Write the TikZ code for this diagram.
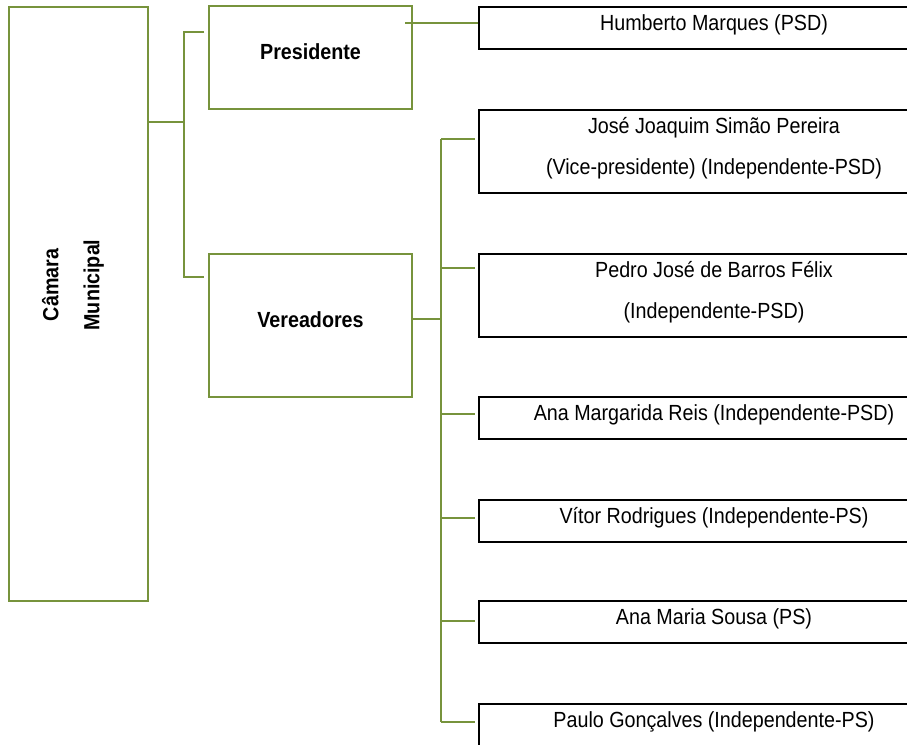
\documentclass[tikz,border=0pt]{standalone}
\usepackage{fontspec}
\setmainfont{Liberation Sans}[FakeStretch=0.9]
\usetikzlibrary{calc}
\definecolor{leafgreen}{HTML}{77933C}
\newcommand{\orgfont}{\fontsize{21.9}{41}\selectfont}
\tikzset{
  link/.style={draw=leafgreen, line width=1.8pt},
  greenbox/.style={draw=leafgreen, line width=1.8pt, minimum width=203pt, minimum height=103pt, text depth=11pt, font=\orgfont\bfseries},
  memberbox/.style={draw=black, line width=1.8pt, minimum width=470pt, minimum height=42pt, text depth=11pt, align=center, font=\orgfont}
}

\begin{document}
\begin{tikzpicture}[x=1pt,y=-1pt]
\useasboundingbox (0,0) rectangle (907,744);
\clip (0,0) rectangle (907,744);
% left column
\node[greenbox, minimum width=139pt, minimum height=594pt] (camara) at (78.5,304) {};
\node[rotate=90, align=center, font=\orgfont\bfseries] (camaratxt) at (73,285) {Câmara\\Municipal};
\node[greenbox] (pres) at (310.5,57.5) {Presidente};
\node[greenbox, minimum height=143pt] (ver) at (310.5,325.5) {Vereadores};
% members
\node[memberbox] (m1) at (714,28) {Humberto Marques (PSD)};
\node[memberbox, minimum height=83pt] (m2) at (714,151.5) {José Joaquim Simão Pereira\\(Vice-presidente) (Independente-PSD)};
\node[memberbox, minimum height=83pt] (m3) at (714,295.5) {Pedro José de Barros Félix\\(Independente-PSD)};
\node[memberbox] (m4) at (714,418) {Ana Margarida Reis (Independente-PSD)};
\node[memberbox] (m5) at (714,521) {Vítor Rodrigues (Independente-PS)};
\node[memberbox] (m6) at (714,622) {Ana Maria Sousa (PS)};
\node[memberbox] (m7) at (714,725) {Paulo Gonçalves (Independente-PS)};
% connectors
\coordinate (cmid) at (184,122);
\coordinate (ctop) at (184,32);
\coordinate (cbot) at (184,277);
\draw[link] (camara.east |- cmid) -- (cmid);
\draw[link] ($(pres.west |- ctop)+(-4,0)$) -- (ctop) -- (cbot) -- ($(ver.west |- cbot)+(-4,0)$);
\coordinate (ptap) at (405,23);
\draw[link] (ptap) -- (ptap -| m1.west);
\coordinate (vtop) at (441,139);
\coordinate (vbot) at (441,722);
\coordinate (vtap) at (ver.east |- 0,319);
\draw[link] (vtap) -- (vtap -| vtop);
\draw[link] (vtop) -- (vbot);
\foreach \m/\dy in {m2/12.5, m3/27.5, m4/4, m5/3, m6/1, m7/3}
{
  \coordinate (tip) at ($(\m.west)+(-3,-\dy)$);
  \draw[link] (vtop |- tip) -- (tip);
}
\end{tikzpicture}
\end{document}
